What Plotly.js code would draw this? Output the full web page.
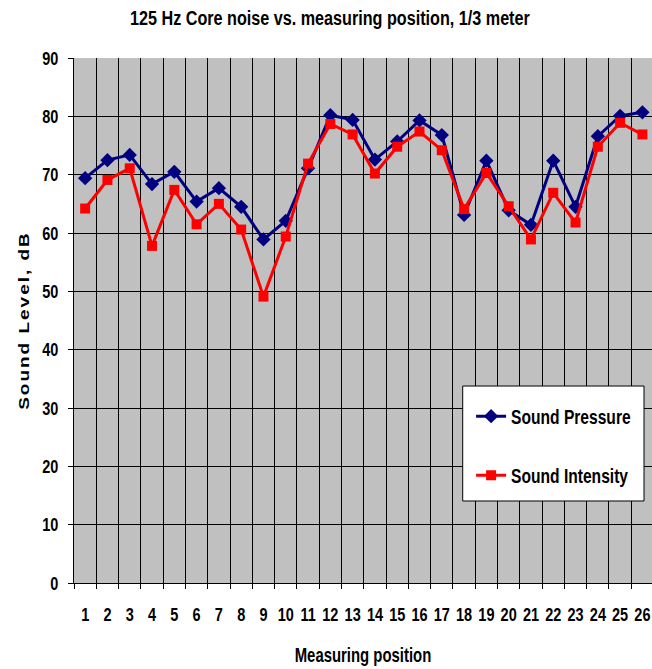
<!DOCTYPE html>
<html>
<head>
<meta charset="utf-8">
<script src="https://cdn.plot.ly/plotly-3.0.1.min.js"></script>
<style>html,body{margin:0;padding:0;overflow:hidden;background:#fff;}</style>
</head>
<body>
<div id="chart" style="width:652px;height:669px;"></div>
<script>
const positions = ['1','2','3','4','5','6','7','8','9','10','11','12','13','14','15','16','17','18','19','20','21','22','23','24','25','26'];
const soundPressure = [69.4,72.5,73.4,68.4,70.5,65.4,67.7,64.5,58.9,62.1,71.1,80.2,79.4,72.6,75.7,79.3,76.8,63.1,72.4,63.9,61.4,72.4,64.5,76.6,80.1,80.7];
const soundIntensity = [64.2,69.1,71.1,57.8,67.4,61.5,65.0,60.6,49.1,59.4,71.9,78.7,76.9,70.2,74.8,77.4,74.2,64.1,70.3,64.6,58.9,66.9,61.8,74.8,78.9,76.9];
const yTicks = [0,10,20,30,40,50,60,70,80,90];

const FONT = '"Liberation Sans", Arial, sans-serif';
const K = 0.78; // horizontal condensing of the original's narrow bold lettering

const traces = [
  {
    x: positions, y: soundPressure, name: 'Sound Pressure', type: 'scatter', mode: 'lines+markers',
    legendgroup: 'a',
    line: {color: '#000080', width: 3},
    marker: {symbol: 'diamond', size: 11, color: '#000080'}
  },
  {
    x: positions, y: soundIntensity, name: 'Sound Intensity', type: 'scatter', mode: 'lines+markers',
    legendgroup: 'b',
    line: {color: '#ff0000', width: 3},
    marker: {symbol: 'square', size: 10, color: '#ff0000'}
  }
];

const layout = {
  width: 652, height: 669,
  margin: {l: 74, r: 0, t: 58, b: 86, autoexpand: false},
  paper_bgcolor: '#ffffff',
  plot_bgcolor: '#c0c0c0',
  font: {family: FONT, color: '#000', size: 18},
  title: {
    text: '<b>125 Hz Core noise vs. measuring position, 1/3 meter</b>',
    font: {family: FONT, size: 21, color: '#000'},
    x: 0.506, xanchor: 'center', y: 0.973, yanchor: 'middle'
  },
  xaxis: {
    type: 'category',
    range: [-0.5, 25.43],
    tickmode: 'linear', tick0: 0, dtick: 1, tickangle: 0,
    tickson: 'boundaries',
    showgrid: true, gridcolor: '#000', gridwidth: 1,
    ticks: 'outside', ticklen: 5, tickcolor: '#000', tickwidth: 1,
    ticklabelstandoff: 15,
    showline: true, linecolor: '#000', linewidth: 1,
    tickfont: {family: FONT, size: 18.6, weight: 'bold'},
    title: {text: '<b>Measuring position</b>', font: {family: FONT, size: 21}, standoff: 22},
    fixedrange: true, zeroline: false
  },
  yaxis: {
    range: [0, 90.01],
    tickvals: yTicks,
    ticktext: yTicks.map(String),
    showgrid: true, gridcolor: '#000', gridwidth: 1,
    ticks: 'outside', ticklen: 5, tickcolor: '#000', tickwidth: 1,
    ticklabelstandoff: 6,
    showline: true, linecolor: '#000', linewidth: 1,
    tickfont: {family: FONT, size: 18.6, weight: 'bold'},
    title: {text: '<b>Sound Level, dB</b>', font: {family: FONT, size: 19}, standoff: 1},
    fixedrange: true, zeroline: false
  },
  showlegend: true,
  legend: {
    x: 0.687, xanchor: 'left', y: 0.355, yanchor: 'top',
    bgcolor: 'rgba(0,0,0,0)', borderwidth: 0,
    font: {family: FONT, size: 20, weight: 'bold'},
    itemwidth: 30, tracegroupgap: 30
  },
  shapes: [{
    type: 'rect', xref: 'paper', yref: 'paper',
    x0: 0.6725, x1: 0.9862, y0: 0.1562, y1: 0.3752,
    fillcolor: '#ffffff', line: {color: '#000', width: 1}, layer: 'above'
  }]
};

function condense(sel, k, dir) {
  document.querySelectorAll(sel).forEach(function(el){
    const bb = el.getBBox();
    const t = el.getAttribute('transform') || '';
    if (dir === 'y') {
      const cy = bb.y + bb.height / 2;
      el.setAttribute('transform', t + ' translate(0,' + cy + ') scale(1,' + k + ') translate(0,' + (-cy) + ')');
    } else {
      const anchor = el.getAttribute('text-anchor') || 'start';
      let cx = bb.x;
      if (anchor === 'end') cx = bb.x + bb.width;
      else if (anchor === 'middle') cx = bb.x + bb.width / 2;
      el.setAttribute('transform', t + ' translate(' + cx + ',0) scale(' + k + ',1) translate(' + (-cx) + ',0)');
    }
  });
}

Plotly.newPlot('chart', traces, layout, {staticPlot: true, displayModeBar: false}).then(function(){
  document.querySelectorAll('.ytitle').forEach(function(t){ t.style.letterSpacing = '2px'; });
  condense('.gtitle', 0.77, 'x');
  condense('.xtick text', K, 'x');
  condense('.ytick text', K, 'x');
  condense('.xtitle', 0.71, 'x');
  condense('.ytitle', K, 'y');
  condense('.legendtext', K, 'x');
});
</script>
</body>
</html>
